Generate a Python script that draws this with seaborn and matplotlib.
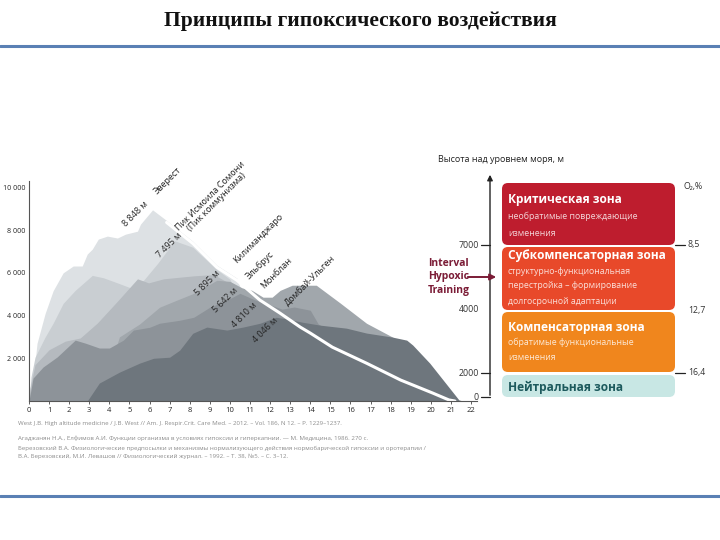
import matplotlib
matplotlib.use("Agg")
import matplotlib.pyplot as plt
from matplotlib.patches import FancyBboxPatch
import seaborn as sns
import pandas as pd

# ---------------- data ----------------
title = "Принципы гипоксического воздействия"

# mountain silhouettes (x = axis units 0..22, y = metres), back to front
a_x = [0, 0.1, 0.4, 0.8, 1.2, 1.7, 2.2, 2.65, 2.9, 3.15, 3.45, 3.9, 4.4, 4.8, 5.4, 5.55, 6.15, 6.85, 8.15, 9.35, 10.35, 11.0, 11.6]
a_y = [0, 50, 2700, 4090, 5160, 6000, 6320, 6320, 6880, 7110, 7580, 7720, 7630, 7810, 7950, 8280, 8950, 8450, 7480, 6360, 5750, 4000, 0]
b_x = [0, 0.1, 0.3, 0.8, 1.2, 1.7, 2.3, 3.15, 3.7, 4.4, 5.05, 5.7, 6.4, 7.25, 8.15, 9.35, 10.0, 10.6, 11.2]
b_y = [0, 1130, 2050, 2990, 3640, 4570, 5180, 5880, 5770, 5530, 5300, 5650, 6440, 7500, 7200, 6150, 5700, 4500, 0]
c_x = [0, 0.05, 0.3, 1.0, 1.8, 2.55, 3.4, 4.4, 5.4, 5.95, 6.7, 8.2, 9.2, 9.8, 10.5, 11.2, 11.8]
c_y = [0, 600, 1700, 2400, 2800, 2950, 3650, 4670, 5720, 5530, 5720, 5860, 5920, 5600, 5000, 3500, 0]
d_x = [3.5, 4.5, 5.5, 6.5, 7.3, 8.2, 9.35, 10.0, 10.6, 11.1, 11.65, 12.1, 12.5, 13.1, 13.8, 14.3, 15.5, 16.8, 18.1, 19.0, 19.5]
d_y = [0, 3000, 3600, 4390, 4700, 5040, 5650, 5600, 5300, 5180, 4860, 4860, 5180, 5420, 5420, 5420, 4580, 3640, 2990, 2400, 0]
e_x = [0, 0.2, 0.7, 1.4, 2.3, 2.8, 3.5, 4.0, 4.7, 5.2, 6.0, 6.5, 7.5, 8.2, 9.0, 9.85, 10.5, 11.2, 12.0, 12.6, 13.2, 14.0, 14.4, 15.0, 15.5]
e_y = [0, 1070, 1590, 2060, 2850, 2710, 2480, 2480, 2850, 3320, 3450, 3640, 3780, 3920, 4390, 4720, 5040, 4750, 4500, 4300, 4400, 4250, 3600, 3300, 0]
f_x = [2.9, 3.5, 4.5, 5.5, 6.2, 7.0, 7.5, 8.15, 8.85, 9.85, 10.65, 11.5, 12.3, 12.6, 13.6, 14.5, 15.8, 16.8, 18.1, 18.8, 19.1, 19.95, 21.4, 21.6]
f_y = [0, 840, 1350, 1770, 2000, 2050, 2380, 3170, 3460, 3320, 3460, 3640, 3920, 3880, 3690, 3550, 3410, 3180, 2990, 2850, 2620, 1770, 50, 0]

# white descending line
curve_x = [6.85, 8.15, 9.35, 10.35, 11.5, 12.5, 13.5, 14.0, 15.1, 16.8, 18.5, 20.1, 20.9, 21.2]
curve_y = [8360, 7380, 6260, 5650, 4720, 4110, 3460, 3180, 2520, 1770, 980, 370, 50, 0]

# mountain labels
peak_names = ["Эверест", "Пик Исмоила Сомони\n(Пик коммунизма)", "Килиманджаро",
              "Эльбрус", "Монблан", "Домбай-Ульген"]
peak_name_x = [6.9, 9.2, 11.4, 11.5, 12.3, 14.0]
peak_name_y = [10300, 9450, 7600, 6350, 5980, 5650]
peak_heights = ["8 848 м", "7 495 м", "5 895 м", "5 642 м", "4 810 м", "4 046 м"]
peak_height_x = [5.3, 7.0, 8.9, 9.75, 10.7, 11.75]
peak_height_y = [8780, 7280, 5510, 4720, 4020, 3320]

x_ticks = list(range(0, 23))
y_ticks = [2000, 4000, 6000, 8000, 10000]
y_tick_labels = ["2 000", "4 000", "6 000", "8 000", "10 000"]

references = [
    "West J.B. High altitude medicine / J.B. West // Am. J. Respir.Crit. Care Med. – 2012. – Vol. 186, N 12. – P. 1229–1237.",
    "Агаджанян Н.А., Елфимов А.И. Функции организма в условиях гипоксии и гиперкапнии. — М. Медицина, 1986. 270 с.",
    "Березовский В.А. Физиологические предпосылки и механизмы нормализующего действия нормобарической гипоксии и оротерапии /\nВ.А. Березовский, М.И. Левашов // Физиологический журнал. – 1992. – Т. 38, №5. – С. 3–12.",
]

# zones (top to bottom)
zone_titles = ["Критическая зона", "Субкомпенсаторная зона", "Компенсаторная зона", "Нейтральная зона"]
zone_lines = [["необратимые повреждающие", "изменения"],
              ["структурно-функциональная", "перестройка – формирование", "долгосрочной адаптации"],
              ["обратимые функциональные", "изменения"],
              []]
zone_colors = ["#be1d2e", "#e8492a", "#f0861d", "#c8e7e4"]
altitude_labels = ["7000", "4000", "2000", "0"]
o2_labels = ["8,5", "12,7", "16,4"]

# ---------------- figure ----------------
sns.set_theme(style="white")
plt.rcParams["font.family"] = ["Open Sans", "DejaVu Sans"]

fig = plt.figure(figsize=(7.2, 5.4), dpi=100)
fig.patch.set_facecolor("white")

# overlay in pixel coordinates for slide decoration
ov = fig.add_axes([0, 0, 1, 1])
ov.set_xlim(0, 720)
ov.set_ylim(540, 0)
ov.axis("off")

ov.text(360, 21, title, ha="center", va="center", fontsize=15.5, fontweight="bold",
        family="Liberation Serif", color="#111111")
ov.plot([0, 720], [46, 46], color="#5a80b4", lw=2.2)
ov.plot([0, 720], [496, 496], color="#5a80b4", lw=2.2)

for i, ref in enumerate(references):
    ov.text(18, [424, 438, 452][i], ref, ha="left", va="center", fontsize=4.4,
            color="#8c8c8c", linespacing=1.6)

# ---------------- mountains chart ----------------
ax = fig.add_axes([29 / 720, 139 / 540, 448 / 720, 220 / 540])
ax.set_facecolor("none")
layers = [(a_x, a_y, "#dde1e4"), (b_x, b_y, "#c9ced2"), (c_x, c_y, "#b5babf"),
          (d_x, d_y, "#a1a7ac"), (e_x, e_y, "#8d9399"), (f_x, f_y, "#6e767d")]
for lx, ly, col in layers:
    ax.fill_between(lx, ly, 0, color=col, lw=0)

curve = pd.DataFrame({"x": curve_x, "y": curve_y})
sns.lineplot(data=curve, x="x", y="y", ax=ax, color="white", lw=2.2, sort=False)

ax.set_xlim(0, 22.3)
ax.set_ylim(0, 10300)
ax.set_xticks(x_ticks)
ax.set_xticklabels([str(t) for t in x_ticks])
ax.set_yticks(y_ticks)
ax.set_yticklabels(y_tick_labels)
ax.tick_params(axis="x", labelsize=5.5, length=2.5, width=0.6, color="#444444", pad=2, bottom=True)
ax.tick_params(axis="y", labelsize=5.1, length=0, pad=2.5)
ax.set_xlabel("")
ax.set_ylabel("")
for side in ["top", "right"]:
    ax.spines[side].set_visible(False)
for side in ["left", "bottom"]:
    ax.spines[side].set_color("#555555")
    ax.spines[side].set_linewidth(0.8)

for txt, x, y in zip(peak_names, peak_name_x, peak_name_y):
    ax.text(x, y, txt, rotation=45, ha="center", va="center", fontsize=6.4,
            color="#1e1e1e", clip_on=False, rotation_mode="anchor", linespacing=1.0)
for txt, x, y in zip(peak_heights, peak_height_x, peak_height_y):
    ax.text(x, y, txt, rotation=45, ha="center", va="center", fontsize=6.4,
            color="#262626", clip_on=False, rotation_mode="anchor")

# ---------------- zones panel ----------------
ov.text(438, 160, "Высота над уровнем моря, м", ha="left", va="center", fontsize=6.5, color="#222222")
ov.annotate("", xy=(490, 172), xytext=(490, 398),
            arrowprops=dict(arrowstyle="-|>", color="#222222", lw=1.0, mutation_scale=8))

zone_top = [183, 247, 312, 375]
zone_bot = [245, 310, 372, 397]
for i in range(4):
    box = FancyBboxPatch((502, zone_top[i]), 173, zone_bot[i] - zone_top[i],
                         boxstyle="round,pad=0,rounding_size=6", fc=zone_colors[i], ec="none")
    ov.add_patch(box)
title_y = [199, 256, 327, 387]
title_col = ["white", "white", "white", "#1d5a5d"]
line_gap = [17, 15, 15, 15]
for i in range(4):
    ov.text(508, title_y[i], zone_titles[i], ha="left", va="center", fontsize=8.6,
            fontweight="bold", color=title_col[i])
    for k, line in enumerate(zone_lines[i]):
        ov.text(508, title_y[i] + line_gap[i] * (k + 1), line, ha="left", va="center",
                fontsize=6.3, color="white", alpha=0.82)

alt_y = [245, 310, 373, 397]
for lab, y in zip(altitude_labels, alt_y):
    ov.text(479, y, lab, ha="right", va="center", fontsize=6.3, color="#333333")
    if lab != "4000":
        ov.plot([481, 490], [y, y], color="#222222", lw=0.9)

ov.text(684, 187, "O\u2082,%", ha="left", va="center", fontsize=6.3, color="#333333")
o2_y = [245, 310, 373]
for lab, y in zip(o2_labels, o2_y):
    ov.text(688, y, lab, ha="left", va="center", fontsize=6.3, color="#333333")
    if lab != "12,7":
        ov.plot([675, 685], [y, y], color="#222222", lw=0.9)

for word, y in zip(["Interval", "Hypoxic", "Training"], [263, 277, 291]):
    ov.text(428, y, word, ha="left", va="center", fontsize=7.5, fontweight="bold", color="#7b1c36")
ov.annotate("", xy=(499, 277), xytext=(465, 277),
            arrowprops=dict(arrowstyle="-|>", color="#7b1c36", lw=1.4, mutation_scale=9))

fig.savefig("out.png", dpi=100)
